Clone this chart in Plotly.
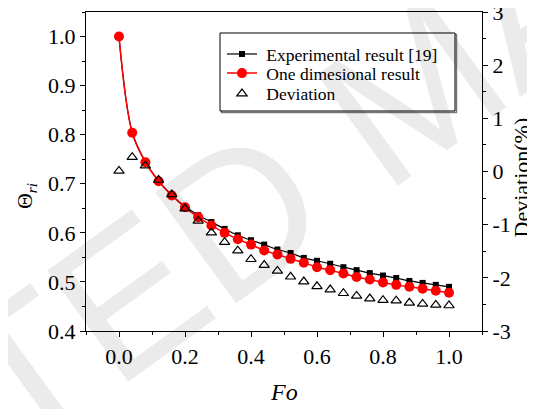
import plotly.graph_objects as go

fo = [0.00, 0.04, 0.08, 0.12, 0.16, 0.20, 0.24, 0.28, 0.32, 0.36, 0.40, 0.44, 0.48,
      0.52, 0.56, 0.60, 0.64, 0.68, 0.72, 0.76, 0.80, 0.84, 0.88, 0.92, 0.96, 1.00]
experimental = [1.000, 0.805, 0.745, 0.706, 0.677, 0.654, 0.636, 0.622, 0.608, 0.595,
                0.585, 0.576, 0.566, 0.559, 0.549, 0.543, 0.537, 0.530, 0.524, 0.518,
                0.513, 0.508, 0.502, 0.498, 0.494, 0.490]
one_dim = [1.000, 0.804, 0.744, 0.705, 0.676, 0.652, 0.632, 0.615, 0.600, 0.587,
           0.576, 0.564, 0.556, 0.547, 0.539, 0.530, 0.524, 0.517, 0.510, 0.505,
           0.499, 0.494, 0.490, 0.486, 0.482, 0.478]
deviation = [0.01, 0.27, 0.11, -0.16, -0.43, -0.70, -0.93, -1.15, -1.33, -1.49,
             -1.65, -1.76, -1.87, -1.98, -2.07, -2.16, -2.22, -2.29, -2.34, -2.39,
             -2.42, -2.43, -2.47, -2.49, -2.51, -2.52]

x_ticks = [0.0, 0.2, 0.4, 0.6, 0.8, 1.0]
y_ticks = [0.4, 0.5, 0.6, 0.7, 0.8, 0.9, 1.0]
y2_ticks = [-3, -2, -1, 0, 1, 2, 3]

FONT = "Liberation Serif"
NB = "\u00a0"

fig = go.Figure()
fig.add_trace(go.Scatter(
    x=fo, y=experimental, name=NB + "Experimental result [19]", mode="lines+markers",
    line=dict(color="black", width=1.2, shape="spline"),
    marker=dict(symbol="square", size=6, color="black"), legend="legend"))
fig.add_trace(go.Scatter(
    x=fo, y=one_dim, name=NB + "One dimesional result", mode="lines+markers",
    line=dict(color="#ff0000", width=1.5, shape="spline"),
    marker=dict(symbol="circle", size=10, color="#ff0000"), legend="legend2"))
fig.add_trace(go.Scatter(
    x=fo, y=deviation, name=NB + "Deviation", mode="markers", yaxis="y2",
    marker=dict(symbol="triangle-up-open", size=9, color="black",
                line=dict(width=1.2, color="black")), legend="legend3"))

axis_common = dict(showline=True, linecolor="black", linewidth=1.3, ticks="outside",
                   ticklen=5, tickwidth=1.2, tickcolor="black", showgrid=False,
                   zeroline=False, automargin=False, ticklabeloverflow="allow",
                   tickfont=dict(family=FONT, size=22, color="black"))

leg_common = dict(xanchor="left", yanchor="middle", borderwidth=0,
                  bgcolor="rgba(255,255,255,0)",
                  font=dict(family=FONT, size=17.5, color="black"), itemwidth=30)

fig.update_layout(
    width=527, height=401,
    margin=dict(l=78, r=53, t=4, b=78, autoexpand=False),
    paper_bgcolor="white", plot_bgcolor="white",
    showlegend=True,
    font=dict(family=FONT, color="black"),
    xaxis=dict(range=[-0.1, 1.1], tickvals=x_ticks, ticktext=[f"{v:.1f}" for v in x_ticks],
               mirror=True,
               minor=dict(dtick=0.1, tick0=0, ticks="outside", ticklen=3, tickcolor="black"),
               **axis_common),
    yaxis=dict(range=[0.4, 1.05], tickvals=y_ticks, ticktext=[f"{v:.1f}" for v in y_ticks],
               minor=dict(dtick=0.05, tick0=0.4, ticks="outside", ticklen=3, tickcolor="black"),
               **axis_common),
    yaxis2=dict(range=[-3, 3], tickvals=y2_ticks, ticktext=[str(v) for v in y2_ticks],
                overlaying="y", side="right",
                minor=dict(dtick=0.5, tick0=0, ticks="outside", ticklen=3, tickcolor="black"),
                **axis_common),
    legend=dict(x=0.3434, y=0.868, **leg_common),
    legend2=dict(x=0.3434, y=0.808, **leg_common),
    legend3=dict(x=0.3434, y=0.744, **leg_common),
    shapes=[
        dict(type="rect", xref="paper", yref="paper", x0=0.3422, x1=0.9356,
             y0=0.6850, y1=0.9295, line=dict(color="#777777", width=1.5), layer="below"),
        dict(type="rect", xref="paper", yref="paper", x0=0.3384, x1=0.9318,
             y0=0.6897, y1=0.9342, line=dict(color="black", width=1),
             fillcolor="white", layer="below"),
    ],
    annotations=[
        dict(text="ACCEPTED MANUSCRIPT", xref="paper", yref="paper",
             x=(415 - 86) / 396, y=(331 - 87) / 319, showarrow=False, textangle=-36,
             font=dict(family="Liberation Sans", size=200, color="rgba(0,0,0,0.08)"),
             xanchor="center", yanchor="middle"),
        dict(text="Θ<sub><i>ri</i></sub>", xref="paper", yref="paper", x=-0.1515, y=0.423,
             showarrow=False, textangle=-90, font=dict(family=FONT, size=22, color="black"),
             xanchor="center", yanchor="middle"),
        dict(text="Deviation(%)", xref="paper", yref="paper", x=1.1, y=0.48,
             showarrow=False, textangle=-90, font=dict(family=FONT, size=22, color="black"),
             xanchor="center", yanchor="middle"),
        dict(text="<i>Fo</i>", xref="paper", yref="paper", x=0.5, y=-0.191,
             showarrow=False, font=dict(family=FONT, size=24, color="black"),
             xanchor="center", yanchor="middle"),
    ],
)

fig.write_html("out.html")
